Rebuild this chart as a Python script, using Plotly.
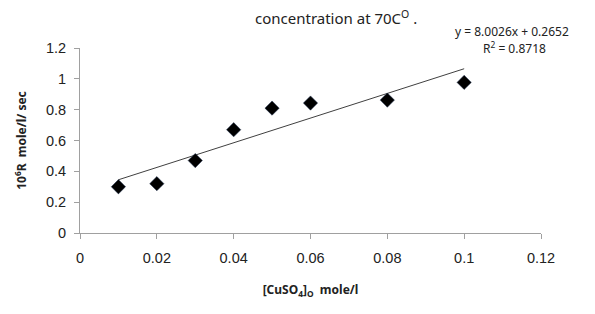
import plotly.graph_objects as go

conc = [0.01, 0.02, 0.03, 0.04, 0.05, 0.06, 0.08, 0.10]
rate = [0.30, 0.32, 0.47, 0.67, 0.81, 0.843, 0.862, 0.977]
slope = 8.0026
intercept = 0.2652
x_ticks = [0, 0.02, 0.04, 0.06, 0.08, 0.1, 0.12]
x_tick_labels = ["0", "0.02", "0.04", "0.06", "0.08", "0.1", "0.12"]
y_ticks = [0, 0.2, 0.4, 0.6, 0.8, 1, 1.2]
y_tick_labels = ["0", "0.2", "0.4", "0.6", "0.8", "1", "1.2"]

trend_x = [min(conc), max(conc)]
trend_y = [slope * v + intercept for v in trend_x]

fig = go.Figure()
fig.add_trace(go.Scatter(x=trend_x, y=trend_y, mode="lines",
                         line=dict(color="#404040", width=1), hoverinfo="skip"))
fig.add_trace(go.Scatter(x=conc, y=rate, mode="markers",
                         marker=dict(symbol="diamond", size=11, color="black",
                                     line=dict(color="#1f3050", width=0.5))))

font_main = "Liberation Sans, Arial, sans-serif"
font_cal = "Noto Sans, Open Sans, sans-serif"

W, H = 461, 185
fig.update_layout(
    width=595, height=314,
    margin=dict(l=72, r=62, t=40, b=89, autoexpand=False),
    paper_bgcolor="white", plot_bgcolor="white",
    showlegend=False,
    xaxis=dict(range=[0, 0.12], tickvals=x_ticks, ticktext=x_tick_labels,
               showgrid=False, zeroline=False, showline=True, linecolor="#a0a0a0",
               linewidth=1, ticks="outside", ticklen=5, tickcolor="#a0a0a0",
               automargin=False, ticklabelstandoff=7,
               tickfont=dict(family=font_main, size=14.5, color="#222"),
               title=dict(text="<b>[CuSO<sub>4</sub>]<sub>O</sub>  mole/l</b>",
                          font=dict(family=font_cal, size=12, color="#222"), standoff=20)),
    yaxis=dict(range=[0, 1.2], tickvals=y_ticks, ticktext=y_tick_labels,
               showgrid=False, zeroline=False, showline=True, linecolor="#a0a0a0",
               linewidth=1, ticks="outside", ticklen=5, tickcolor="#a0a0a0",
               automargin=False, ticklabelstandoff=5,
               tickfont=dict(family=font_main, size=14.5, color="#222"),
               title=dict(text="<b>10<sup>6</sup>R  mole/l/ sec</b>",
                          font=dict(family=font_cal, size=12, color="#222"), standoff=16)),
    annotations=[
        dict(text="concentration at 70C<sup>O</sup> .", xref="paper", yref="paper",
             x=(336 - 80) / W, y=1 + (48 - 18) / H, xanchor="center", yanchor="middle",
             showarrow=False, font=dict(family=font_cal, size=15, color="#222")),
        dict(text="y = 8.0026x + 0.2652", xref="paper", yref="paper",
             x=(512 - 80) / W, y=1 + (48 - 31) / H, xanchor="center", yanchor="middle",
             showarrow=False, font=dict(family=font_cal, size=12, color="#222")),
        dict(text="R<sup>2</sup> = 0.8718", xref="paper", yref="paper",
             x=(514 - 80) / W, y=1 + (48 - 48) / H, xanchor="center", yanchor="middle",
             showarrow=False, font=dict(family=font_cal, size=12, color="#222")),
    ],
)

fig.write_html("out.html")
